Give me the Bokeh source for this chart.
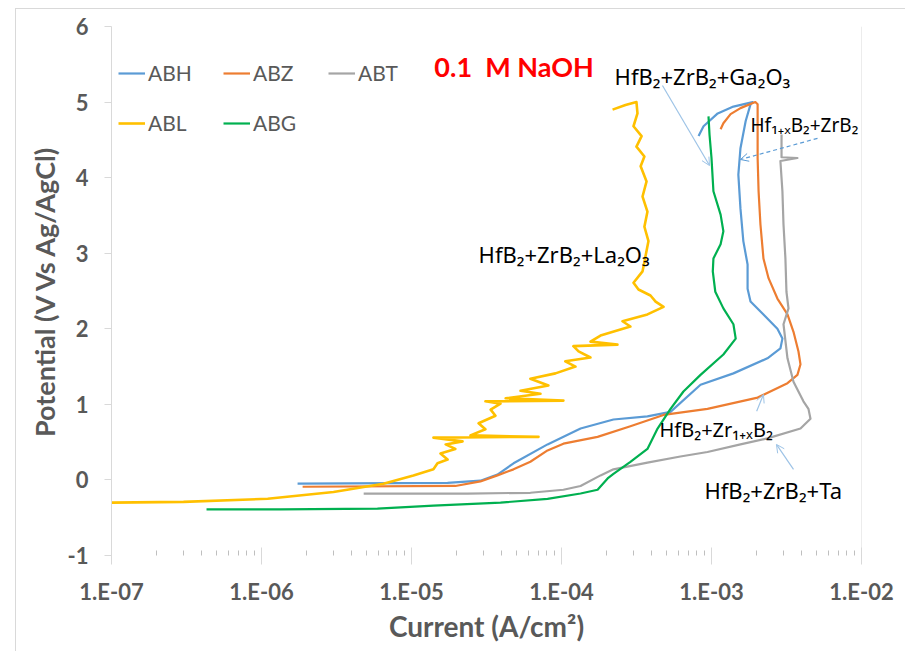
from bokeh.plotting import figure
from bokeh.models import (Range1d, FixedTicker, CustomJSTickFormatter, Legend, LegendItem,
                          Label, Arrow, OpenHead, Span)
from bokeh.embed import file_html
from bokeh.resources import INLINE

# ---------------- data (current in A/cm2, potential in V vs Ag/AgCl) ----------------
ABH_I = [1.74e-6, 1.74e-5, 2.88e-5, 3.74e-5, 4.79e-5, 8.07e-5, 1.34e-4, 2.22e-4, 3.74e-4, 5.33e-4,
         8.45e-4, 1.40e-3, 2.36e-3, 2.88e-3, 2.97e-3, 2.75e-3, 2.22e-3, 1.82e-3, 1.74e-3, 1.74e-3,
         1.63e-3, 1.56e-3, 1.51e-3, 1.56e-3, 1.69e-3, 1.82e-3, 1.88e-3, 1.40e-3, 1.10e-3, 8.85e-4, 8.2e-4]
ABH_E = [-0.05, -0.04, -0.01, 0.07, 0.22, 0.47, 0.68, 0.80, 0.84, 0.90,
         1.26, 1.41, 1.61, 1.74, 1.87, 2.00, 2.19, 2.36, 2.53, 2.85,
         3.16, 3.59, 4.04, 4.39, 4.75, 4.97, 5.00, 4.94, 4.85, 4.68, 4.55]

ABZ_I = [1.88e-6, 1.96e-5, 2.88e-5, 3.74e-5, 4.79e-5, 6.2e-5, 8.07e-5, 1.03e-4, 1.74e-4, 2.88e-4,
         4.79e-4, 9.4e-4, 2.03e-3, 3.21e-3, 3.74e-3, 3.92e-3, 3.80e-3, 3.52e-3, 3.21e-3, 2.75e-3,
         2.40e-3, 2.22e-3, 2.12e-3, 2.06e-3, 2.03e-3, 2.03e-3, 2.03e-3, 1.96e-3, 1.56e-3, 1.34e-3,
         1.20e-3, 1.15e-3]
ABZ_E = [-0.09, -0.08, -0.02, 0.06, 0.14, 0.24, 0.39, 0.48, 0.57, 0.71,
         0.86, 0.94, 1.09, 1.28, 1.39, 1.53, 1.70, 1.96, 2.19, 2.40,
         2.67, 2.93, 3.38, 3.82, 4.26, 4.61, 4.97, 5.00, 4.92, 4.84,
         4.72, 4.64]

ABT_I = [4.8e-6, 2.36e-5, 6.2e-5, 1.03e-4, 1.34e-4, 1.82e-4, 2.22e-4, 3.74e-4, 6.2e-4, 9.4e-4,
         1.56e-3, 2.36e-3, 3.92e-3, 4.57e-3, 4.43e-3, 4.1e-3, 3.52e-3, 3.21e-3, 3.02e-3, 3.26e-3,
         3.16e-3, 3.11e-3, 3.02e-3, 2.97e-3, 2.88e-3, 3.74e-3, 2.93e-3, 2.93e-3]
ABT_E = [-0.18, -0.18, -0.17, -0.13, -0.08, 0.06, 0.14, 0.23, 0.31, 0.37,
         0.47, 0.55, 0.68, 0.81, 0.94, 1.04, 1.30, 1.61, 2.06, 2.27,
         2.49, 2.93, 3.38, 3.82, 4.22, 4.26, 4.27, 4.57]

ABL_I = [1.0e-7, 3.02e-7, 1.10e-6, 3.02e-6, 6.5e-6, 1.03e-5, 1.40e-5, 1.49e-5, 1.74e-5, 1.56e-5,
         1.96e-5, 1.69e-5, 2.19e-5, 1.40e-5, 7.03e-5, 2.47e-5, 3.11e-5, 2.80e-5, 3.63e-5, 3.37e-5,
         3.92e-5, 3.11e-5, 1.03e-4, 4.24e-5, 7.24e-5, 5.33e-5, 8.18e-5, 6.2e-5, 9.12e-5, 1.24e-4,
         1.06e-4, 1.56e-4, 1.30e-4, 1.20e-4, 2.36e-4, 1.56e-4, 1.82e-4, 2.88e-4, 2.55e-4, 3.74e-4,
         4.79e-4, 4.24e-4, 3.92e-4, 3.26e-4, 3.02e-4, 3.47e-4, 3.63e-4, 3.80e-4, 3.57e-4, 3.74e-4,
         3.47e-4, 3.69e-4, 3.37e-4, 3.57e-4, 3.16e-4, 3.42e-4, 3.02e-4, 3.21e-4, 3.16e-4, 2.67e-4,
         2.19e-4]
ABL_E = [-0.30, -0.29, -0.25, -0.16, -0.05, 0.06, 0.14, 0.22, 0.27, 0.35,
         0.41, 0.47, 0.51, 0.56, 0.57, 0.59, 0.67, 0.75, 0.85, 0.93,
         1.01, 1.04, 1.05, 1.08, 1.14, 1.18, 1.25, 1.34, 1.41, 1.50,
         1.57, 1.62, 1.70, 1.77, 1.79, 1.83, 1.91, 2.03, 2.10, 2.19,
         2.29, 2.36, 2.44, 2.52, 2.61, 2.76, 2.96, 3.16, 3.35, 3.55,
         3.75, 3.95, 4.15, 4.28, 4.41, 4.55, 4.68, 4.85, 5.00, 4.96,
         4.90]

ABG_I = [4.30e-7, 1.34e-6, 5.93e-6, 1.40e-5, 3.92e-5, 8.07e-5, 1.34e-4, 1.74e-4, 2.03e-4, 2.22e-4,
         2.88e-4, 3.74e-4, 4.37e-4, 5.33e-4, 6.5e-4, 8.45e-4, 1.20e-3, 1.45e-3, 1.40e-3, 1.20e-3,
         1.06e-3, 1.02e-3, 1.03e-3, 1.15e-3, 1.20e-3, 1.15e-3, 1.03e-3, 1.0e-3, 9.7e-4, 9.55e-4]
ABG_E = [-0.39, -0.39, -0.38, -0.34, -0.30, -0.25, -0.18, -0.13, 0.02, 0.08,
         0.24, 0.41, 0.68, 0.94, 1.17, 1.39, 1.66, 1.87, 2.06, 2.27,
         2.49, 2.76, 2.93, 3.12, 3.29, 3.51, 3.82, 4.26, 4.57, 4.81]

series_names = ["ABH", "ABZ", "ABT", "ABL", "ABG"]
series_colors = ["#5B9BD5", "#ED7D31", "#A5A5A5", "#FFC000", "#00B050"]

x_ticks = [1e-7, 1e-6, 1e-5, 1e-4, 1e-3, 1e-2]
x_minor = [m * d for d in [1e-7, 1e-6, 1e-5, 1e-4, 1e-3] for m in range(2, 10)]
y_ticks = [-1, 0, 1, 2, 3, 4, 5, 6]

title_text = "0.1\u00A0 M NaOH"
ann_texts = ["HfB\u2082+ZrB\u2082+Ga\u2082O\u2083",
             "Hf\u2081\u208A\u2093B\u2082+ZrB\u2082",
             "HfB\u2082+ZrB\u2082+La\u2082O\u2083",
             "HfB\u2082+Zr\u2081\u208A\u2093B\u2082",
             "HfB\u2082+ZrB\u2082+Ta"]
ann_x = [2.26e-4, 1.82e-3, 2.80e-5, 4.50e-4, 8.98e-4]
ann_y = [5.35, 4.69, 2.99, 0.67, -0.13]
ann_size = ["22px", "19px", "22px", "20px", "22px"]

# arrows: (x_start, y_start, x_end, y_end, dash)
arrows = [(4.71e-4, 5.22, 9.7e-4, 4.16, "solid"),
          (5.09e-3, 4.52, 1.56e-3, 4.24, "4 3"),
          (2.0e-3, 0.91, 2.22e-3, 1.13, "solid"),
          (3.52e-3, 0.14, 2.71e-3, 0.47, "solid")]

GRAY = "#595959"
AXC = "#D9D9D9"

p = figure(width=890, height=643, x_axis_type="log",
           x_range=Range1d(1e-7, 1e-2), y_range=Range1d(-1, 6),
           output_backend="svg", toolbar_location=None,
           min_border_left=95, min_border_right=45, min_border_top=17, min_border_bottom=97,
           background_fill_color="white", border_fill_color="white")
p.margin = (8, 0, 0, 15)
p.styles = {"border-left": "1px solid #D9D9D9", "border-top": "1px solid #D9D9D9"}
p.outline_line_color = None
p.grid.visible = False

renderers = []
for name, color, xs, ys in zip(series_names, series_colors,
                               [ABH_I, ABZ_I, ABT_I, ABL_I, ABG_I],
                               [ABH_E, ABZ_E, ABT_E, ABL_E, ABG_E]):
    r = p.line(xs, ys, line_color=color, line_width=2.2 if name != "ABL" else 2.6,
               line_join="round")
    renderers.append(r)

# x axis
xa = p.xaxis[0]
xa.ticker = FixedTicker(ticks=x_ticks, minor_ticks=x_minor)
xa.formatter = CustomJSTickFormatter(code="""
const e = Math.round(Math.log10(tick));
return '1.E' + (e < 0 ? '-' : '+') + String(Math.abs(e)).padStart(2, '0');
""")
xa.axis_line_color = None
xa.major_tick_line_color = AXC
xa.minor_tick_line_color = "#BFBFBF"
xa.major_tick_in = 8
xa.major_tick_out = 9
xa.minor_tick_in = 5
xa.minor_tick_out = 0
xa.major_label_standoff = 13
xa.major_label_text_font = "Lato"
xa.major_label_text_font_style = "bold"
xa.major_label_text_font_size = "22px"
xa.major_label_text_color = GRAY
xa.axis_label = "Current (A/cm\u00B2)"
xa.axis_label_text_font = "Lato"
xa.axis_label_text_font_style = "bold"
xa.axis_label_text_font_size = "28px"
xa.axis_label_text_color = GRAY
xa.axis_label_standoff = 1

# y axis
ya = p.yaxis[0]
ya.ticker = FixedTicker(ticks=y_ticks)
ya.formatter = CustomJSTickFormatter(code="return tick.toFixed(0);")
ya.axis_line_color = AXC
ya.major_tick_line_color = AXC
ya.major_tick_in = 0
ya.major_tick_out = 7
ya.minor_tick_line_color = None
ya.major_label_standoff = 16
ya.major_label_text_font = "Lato"
ya.major_label_text_font_style = "bold"
ya.major_label_text_font_size = "22px"
ya.major_label_text_color = GRAY
ya.axis_label = "Potential (V Vs Ag/AgCl)"
ya.axis_label_text_font = "Lato"
ya.axis_label_text_font_style = "bold"
ya.axis_label_text_font_size = "27px"
ya.axis_label_text_color = GRAY
ya.axis_label_standoff = 4

p.add_layout(Span(location=1e-2, dimension="height", line_color=AXC, line_width=1))

# legends (two rows)
def make_legend(idx, loc):
    lg = Legend(items=[LegendItem(label=series_names[i], renderers=[renderers[i]]) for i in idx],
                orientation="horizontal", location=loc, padding=0, margin=0, spacing=0,
                glyph_width=27, glyph_height=20, label_standoff=3, label_width=75,
                border_line_color=None, background_fill_alpha=0,
                label_text_font="Lato", label_text_font_size="21px", label_text_color=GRAY)
    return lg

p.add_layout(make_legend([0, 1, 2], (7, 470)), "center")
p.add_layout(make_legend([3, 4], (7, 420)), "center")

# title inside plot
p.add_layout(Label(x=1.42e-5, y=5.47, text=title_text, text_color="#FF0000",
                   text_font="Lato", text_font_style="bold", text_font_size="27px",
                   text_baseline="middle", text_align="left"))

for t, x, y, s in zip(ann_texts, ann_x, ann_y, ann_size):
    p.add_layout(Label(x=x, y=y, text=t, text_color="#000000", text_font="Noto Sans",
                       text_font_size=s, text_baseline="alphabetic", text_align="left"))

for xs, ys, xe, ye, dash in arrows:
    col = "#5B9BD5" if dash != "solid" else "#9DC3E6"
    p.add_layout(Arrow(end=OpenHead(size=8, line_color=col, line_width=1),
                       x_start=xs, y_start=ys, x_end=xe, y_end=ye,
                       line_color=col, line_width=1.2, line_dash=dash))

open("out.html", "w").write(file_html(p, INLINE))
